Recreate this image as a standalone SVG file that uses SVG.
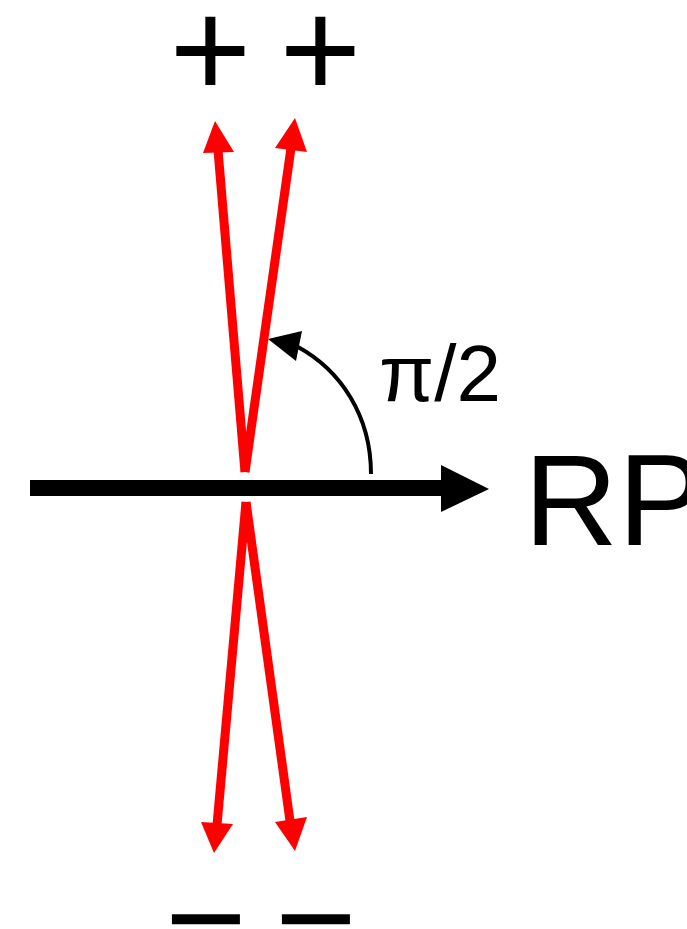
<svg xmlns="http://www.w3.org/2000/svg" width="687" height="929" viewBox="0 0 687 929">
<style>
.sign{font-family:"Liberation Sans",Arial,sans-serif;font-size:140px;fill:#000;text-anchor:middle}
.lbl{font-family:"Liberation Sans",Arial,sans-serif;fill:#000}
.red{stroke:#ff0000;stroke-width:9;fill:none}
.redhead{fill:#ff0000}
</style>
<rect width="687" height="929" fill="#fff"/>
<g id="connectors">
  <line x1="30" y1="488" x2="446" y2="488" stroke="#000" stroke-width="16"/>
  <polygon points="441,465 489,489 441,512" fill="#000"/>
  <line class="red" x1="245" y1="472" x2="218" y2="150"/>
  <polygon class="redhead" points="215,121 234,152 203,153"/>
  <line class="red" x1="245" y1="472" x2="291" y2="148"/>
  <polygon class="redhead" points="295,118 307,152 275,148"/>
  <line class="red" x1="246" y1="502" x2="217" y2="825"/>
  <polygon class="redhead" points="214,853 201,822 233,824"/>
  <line class="red" x1="246" y1="502" x2="290" y2="821"/>
  <polygon class="redhead" points="295,851 275,822 307,817"/>
  <path d="M371,474 C371,415 340,370 298,347" stroke="#000" stroke-width="4" fill="none"/>
  <polygon points="268,339 302,331 296,361" fill="#000"/>
</g>
<g id="plus-left"><text class="sign" x="210.5" y="97">+</text></g>
<g id="plus-right"><text class="sign" x="320.5" y="97">+</text></g>
<g id="minus-left"><text class="sign" x="206" y="966">−</text></g>
<g id="minus-right"><text class="sign" x="316" y="966">−</text></g>
<g id="angle-label"><text class="lbl" x="379" y="401" font-size="80">π/2</text></g>
<g id="rp-label"><text class="lbl" x="524" y="545" font-size="130">RP</text></g>
</svg>
